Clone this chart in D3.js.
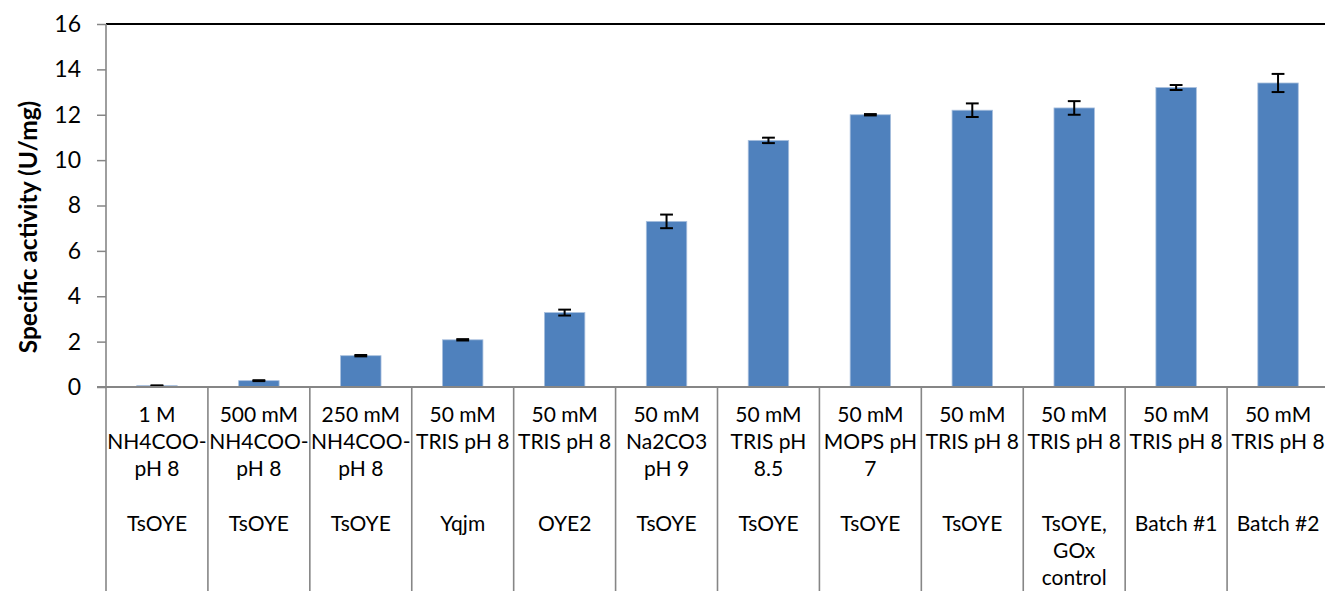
<!DOCTYPE html>
<html>
<head>
<meta charset="utf-8">
<script src="https://cdn.jsdelivr.net/npm/d3@7"></script>
<style>
  html, body { margin: 0; padding: 0; background: #fff; }
  svg { display: block; font-family: Lato, "Open Sans", sans-serif; }
</style>
</head>
<body>
<svg id="chart" width="1325" height="591"></svg>
<script>
// Buffer conditions (first category level), already wrapped into lines
const buffers = [
  ["1 M", "NH4COO-", "pH 8"],
  ["500 mM", "NH4COO-", "pH 8"],
  ["250 mM", "NH4COO-", "pH 8"],
  ["50 mM", "TRIS pH 8"],
  ["50 mM", "TRIS pH 8"],
  ["50 mM", "Na2CO3", "pH 9"],
  ["50 mM", "TRIS pH", "8.5"],
  ["50 mM", "MOPS pH", "7"],
  ["50 mM", "TRIS pH 8"],
  ["50 mM", "TRIS pH 8"],
  ["50 mM", "TRIS pH 8"],
  ["50 mM", "TRIS pH 8"]
];
// Enzyme / sample (second category level)
const enzymes = [
  ["TsOYE"], ["TsOYE"], ["TsOYE"], ["Yqjm"], ["OYE2"], ["TsOYE"],
  ["TsOYE"], ["TsOYE"], ["TsOYE"], ["TsOYE,", "GOx", "control"],
  ["Batch #1"], ["Batch #2"]
];
// Specific activity (U/mg) and standard deviation
const activity = [0.06, 0.28, 1.38, 2.08, 3.28, 7.3, 10.87, 12.0, 12.2, 12.3, 13.2, 13.4];
const stdev    = [0.01, 0.02, 0.03, 0.03, 0.13, 0.3, 0.12, 0.03, 0.3, 0.3, 0.11, 0.4];
const yTicks   = [0, 2, 4, 6, 8, 10, 12, 14, 16];
const yLabel   = "Specific activity (U/mg)";

const svg = d3.select("#chart");
const W = 1325, H = 591;
const plotLeft = 106, plotRight = 1329, plotTop = 24, plotBottom = 387;
const axisGrey = "#868686";
const catFont = 21, tickFont = 23, titleFont = 24.5;

const x = d3.scaleBand().domain(d3.range(activity.length)).range([plotLeft, plotRight]).padding(0);
const y = d3.scaleLinear().domain([0, 16]).range([plotBottom, plotTop]);
const barW = x.bandwidth() * 0.397;

// top border of plot area
svg.append("line")
  .attr("x1", plotLeft).attr("x2", plotRight)
  .attr("y1", plotTop).attr("y2", plotTop)
  .attr("stroke", "#000").attr("stroke-width", 2);

// bars
svg.append("g").selectAll("rect")
  .data(activity)
  .join("rect")
  .attr("x", (d, i) => x(i) + (x.bandwidth() - barW) / 2)
  .attr("y", d => y(d))
  .attr("width", barW)
  .attr("height", d => y(0) - y(d))
  .attr("fill", "#4F81BD")
  .attr("stroke", "#a9c0de")
  .attr("stroke-width", 0.8);

// error bars
const capHalf = 6.4;
const eb = svg.append("g").attr("stroke", "#000").attr("stroke-width", 2);
activity.forEach((v, i) => {
  const cx = x(i) + x.bandwidth() / 2;
  const y1 = y(v + stdev[i]), y2 = y(v - stdev[i]);
  eb.append("line").attr("x1", cx).attr("x2", cx).attr("y1", y1).attr("y2", y2);
  eb.append("line").attr("x1", cx - capHalf).attr("x2", cx + capHalf).attr("y1", y1).attr("y2", y1);
  eb.append("line").attr("x1", cx - capHalf).attr("x2", cx + capHalf).attr("y1", y2).attr("y2", y2);
});

// y axis
const yAxis = svg.append("g")
  .attr("transform", `translate(${plotLeft},0)`)
  .call(d3.axisLeft(y).tickValues(yTicks).tickSize(9).tickPadding(16).tickSizeOuter(0));
yAxis.select(".domain").remove();
yAxis.selectAll(".tick line").attr("stroke", axisGrey).attr("stroke-width", 1.5);
yAxis.selectAll(".tick text")
  .attr("fill", "#000")
  .style("font-size", tickFont + "px")
  .style("font-family", "Lato, sans-serif");

// left axis line running down through the category area
svg.append("line")
  .attr("x1", plotLeft).attr("x2", plotLeft)
  .attr("y1", plotTop).attr("y2", H)
  .attr("stroke", axisGrey).attr("stroke-width", 1.6);

// category axis line
svg.append("line")
  .attr("x1", plotLeft - 9).attr("x2", plotRight)
  .attr("y1", plotBottom).attr("y2", plotBottom)
  .attr("stroke", axisGrey).attr("stroke-width", 2);

// category dividers
svg.append("g").selectAll("line")
  .data(d3.range(1, activity.length + 1))
  .join("line")
  .attr("x1", i => x(i - 1) + x.bandwidth())
  .attr("x2", i => x(i - 1) + x.bandwidth())
  .attr("y1", plotBottom).attr("y2", H)
  .attr("stroke", axisGrey).attr("stroke-width", 1.6);

// category labels, two levels
const lineH = 27.3;
const cat = svg.append("g")
  .attr("text-anchor", "middle")
  .style("font-size", catFont + "px")
  .attr("fill", "#000");
buffers.forEach((lines, i) => {
  const cx = x(i) + x.bandwidth() / 2;
  lines.forEach((t, k) => {
    cat.append("text").attr("x", cx).attr("y", 421.5 + k * lineH).text(t);
  });
});
enzymes.forEach((lines, i) => {
  const cx = x(i) + x.bandwidth() / 2;
  lines.forEach((t, k) => {
    cat.append("text").attr("x", cx).attr("y", 530.5 + k * lineH).text(t);
  });
});

// y axis title
svg.append("text")
  .attr("transform", "translate(27,227) rotate(-90)")
  .attr("text-anchor", "middle")
  .attr("dominant-baseline", "central")
  .style("font-size", titleFont + "px")
  .style("font-weight", "bold")
  .attr("fill", "#000")
  .text(yLabel);
</script>
</body>
</html>
